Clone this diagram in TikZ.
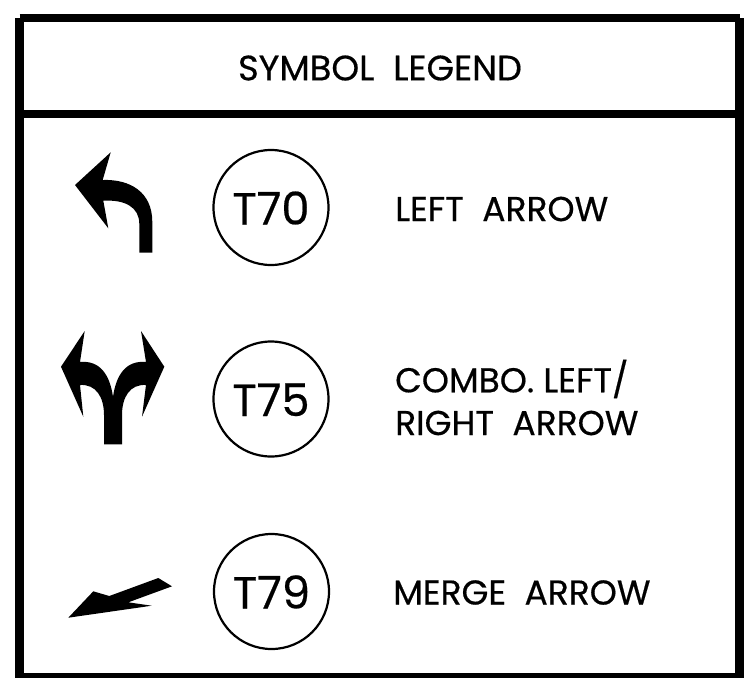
\documentclass[tikz,border=0pt]{standalone}
\usepackage{fontspec}
\setmainfont{Poppins}
\newfontfamily\legendfont{Poppins}[FakeBold=0.5]
\tikzset{
  frameline/.style={draw=black,line width=8.5pt,line cap=butt},
  glyph/.style={fill=black,draw=none},
  badge/.style={circle,draw=black,line width=2.2pt,minimum size=115pt,inner sep=0pt,text height=34pt,text depth=0pt,font=\legendfont\fontsize{45}{45}\selectfont},
  legendtext/.style={anchor=west,inner sep=0pt,font=\legendfont\fontsize{34.5}{34.5}\selectfont,text=black},
}
\begin{document}
\begin{tikzpicture}[x=1pt,y=-1pt]
\useasboundingbox (0,0) rectangle (751,678);
% frame
\draw[frameline] (19.5,18) -- (739.5,18);
\draw[frameline] (19.5,18) -- (19.5,676);
\draw[frameline] (739.5,18) -- (739.5,678);
\fill (15,672.5) rectangle (744,678);
\draw[frameline] (19.5,114) -- (739.5,114);
\node[anchor=center,inner sep=0pt,font=\legendfont\fontsize{35.3}{35.3}\selectfont] (title) at (380,68) {SYMBOL\ \ LEGEND};
% left arrow
\fill[glyph] (75,185) -- (110.7,152.3) -- (102.7,180) .. controls (130,179) and (152.3,192) .. (152.3,222)
  -- (152.3,252.7) -- (139.3,252.7) -- (139.3,224) .. controls (139.3,207) and (125,199.5) .. (103.3,200.7)
  -- (108.3,228.3) -- cycle;
\node[badge] (t70) at (271,207.5) {T70};
\node[legendtext] (l70) at (395,209) {LEFT\ \ ARROW};
% combo arrow
\fill[glyph] (61,366.7) -- (84.7,331) -- (80,362) .. controls (100,360) and (110,375) .. (113,397)
  .. controls (116,375) and (126,360) .. (146,362) -- (141,331) -- (164.3,366.7) -- (142,416.7) -- (146,385)
  .. controls (130,384) and (122,397) .. (122,415) -- (122,444.3) -- (104,444.3) -- (104,415)
  .. controls (104,397) and (96,384) .. (80,385) -- (83.3,416.7) -- cycle;
\node[badge] (t75) at (271,399) {T75};
\node[legendtext] (l75a) at (395,379) {COMBO.\ LEFT/};
\node[legendtext] (l75b) at (395,423) {RIGHT\ \ ARROW};
% merge arrow
\fill[glyph] (68.3,617.7) -- (93.3,591.3) -- (109.3,596) -- (158.3,578) -- (172,586.3) -- (128.3,602.3) -- (151.7,605.7) -- cycle;
\node[badge] (t79) at (271.5,591.5) {T79};
\node[legendtext] (l79) at (393,592.5) {MERGE\ \ ARROW};
\end{tikzpicture}
\end{document}
